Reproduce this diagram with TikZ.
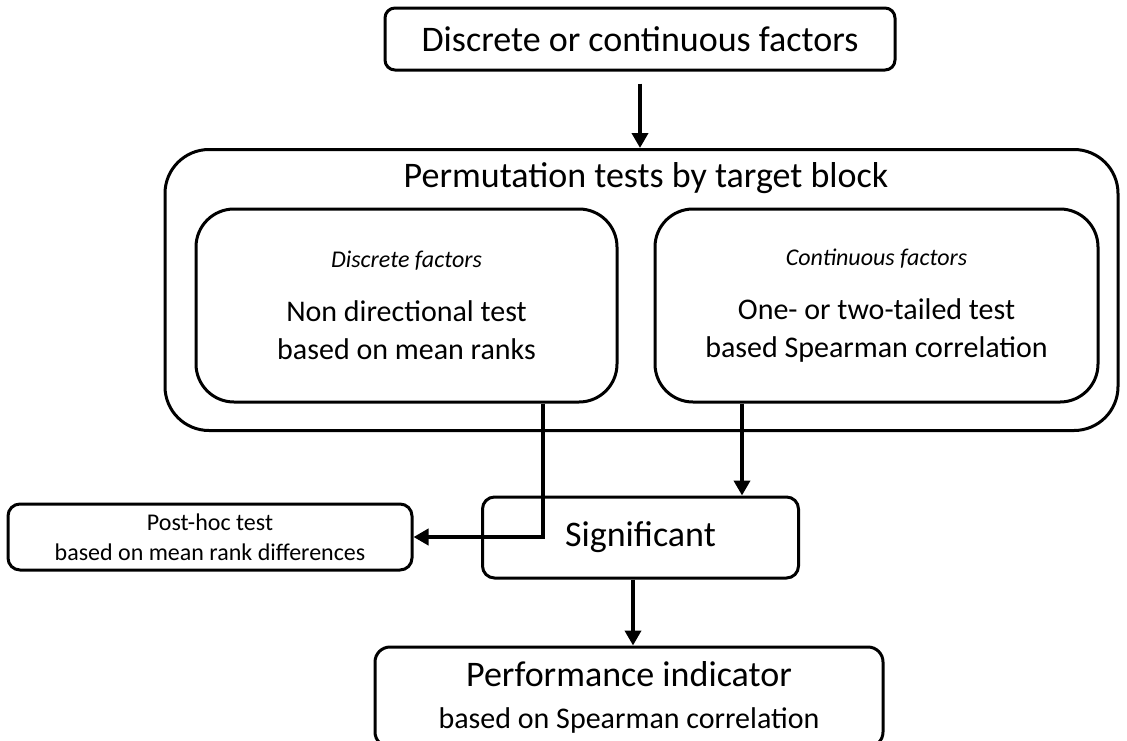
\documentclass[tikz,border=0pt]{standalone}
\usepackage{fontspec}
\setmainfont{Carlito}
\usetikzlibrary{arrows.meta,positioning,calc}

\begin{document}
\begin{tikzpicture}[x=1pt,y=-1pt]

\tikzset{box/.style = {shape=rectangle,draw,line width=3pt,align=center,inner sep=0pt}}
\tikzset{edge1/.style = {-{Triangle[length=15pt,width=16pt]},line width=4pt}}
\useasboundingbox (0,0) rectangle (1127,740);
\clip (0,0) rectangle (1127,740);

% boxes
\node[box,rounded corners=10pt,minimum width=510pt,minimum height=62pt,font=\fontsize{36}{43}\selectfont] (factors) at (640,39) {Discrete or continuous factors};
\node[box,rounded corners=44pt,minimum width=953pt,minimum height=281pt] (perm) at (641.5,290) {};
\node[font=\fontsize{36}{43}\selectfont] (permtitle) at (646,178) {Permutation tests by target block};
\node[box,rounded corners=38pt,minimum width=421pt,minimum height=193pt,font=\fontsize{30}{38}\selectfont] (discrete) at (406.5,305.5)
  {{\fontsize{24}{29}\selectfont\itshape Discrete factors}\\[16pt]Non directional test\\based on mean ranks};
\node[box,rounded corners=38pt,minimum width=443pt,minimum height=193pt,font=\fontsize{30}{38}\selectfont] (continuous) at (876.5,305.5)
  {{\fontsize{24}{29}\selectfont\itshape Continuous factors}\\[16pt]One- or two-tailed test\\based Spearman correlation};
\node[box,rounded corners=12pt,minimum width=316pt,minimum height=81pt,font=\fontsize{36}{43}\selectfont] (signif) at (640.5,537.5) {Significant};
\node[box,rounded corners=12pt,minimum width=404pt,minimum height=66pt,font=\fontsize{24}{30}\selectfont] (posthoc) at (210,537) {Post-hoc test\\based on mean rank differences};
\node[box,rounded corners=15pt,minimum width=508pt,minimum height=100pt,font=\fontsize{30}{42}\selectfont] (perf) at (629,697)
  {{\fontsize{36}{43}\selectfont Performance indicator}\\based on Spearman correlation};

%edges
\draw[edge1,shorten <=12pt] (factors.south) -- (factors.south |- perm.north);
\coordinate (dout) at ([xshift=136.5pt]discrete.south);
\coordinate (cout) at ([xshift=-134.5pt]continuous.south);
\coordinate (sout) at ([xshift=-7.5pt]signif.south);
\draw[edge1] (dout) |- (posthoc.east);
\draw[edge1] (cout) -- (cout |- signif.north);
\draw[edge1] (sout) -- (sout |- perf.north);

\end{tikzpicture}
\end{document}
